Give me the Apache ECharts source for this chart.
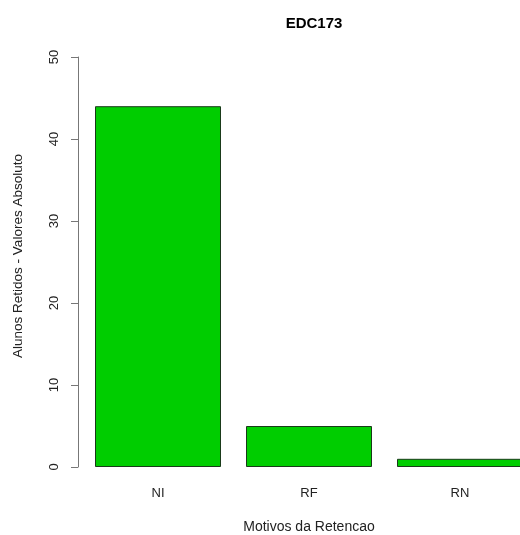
<!DOCTYPE html>
<html>
<head>
<meta charset="utf-8">
<script src="https://cdn.jsdelivr.net/npm/echarts@6/dist/echarts.min.js"></script>
<style>html,body{margin:0;padding:0;background:#fff;overflow:hidden;width:520px;height:535px;}#c{width:536px;height:535px;}</style>
</head>
<body>
<div id="c"></div>
<script>
const titleText = 'EDC173';
const categories = ['NI', 'RF', 'RN'];
const values = [44, 5, 1];
const yTicks = [0, 10, 20, 30, 40, 50];
const xTitle = 'Motivos da Retencao';
const yTitle = 'Alunos Retidos - Valores Absoluto';

const chart = echarts.init(document.getElementById('c'), null, {renderer: 'canvas'});
const font = 'Liberation Sans, Arial, sans-serif';
chart.setOption({
  animation: false,
  backgroundColor: '#fff',
  title: {
    text: titleText, left: 309, top: 11, textAlign: 'center',
    textStyle: {fontFamily: font, fontWeight: 'bold', fontSize: 15, color: '#000'}
  },
  grid: {left: 82.5, right: 0.5, top: 57, bottom: 68, outerBoundsMode: 'none'},
  graphic: [{
    type: 'text', x: 18.5, y: 256, rotation: Math.PI / 2,
    style: {text: yTitle, fontFamily: font, fontSize: 13.5, fill: '#222', align: 'center', verticalAlign: 'middle'}
  }, {
    type: 'text', x: 309, y: 527, 
    style: {text: xTitle, fontFamily: font, fontSize: 14, fill: '#222', align: 'center', verticalAlign: 'middle'}
  }],
  xAxis: {
    type: 'category', data: categories,
    axisLine: {show: false}, axisTick: {show: false}, splitLine: {show: false},
    axisLabel: {fontFamily: font, fontSize: 13, color: '#222', margin: 20}
  },
  yAxis: {
    type: 'value', min: yTicks[0], max: yTicks[yTicks.length - 1], interval: 10,
    offset: 4.5,
    axisLine: {show: true, lineStyle: {color: '#777', width: 1}},
    axisTick: {show: true, inside: false, length: 7, lineStyle: {color: '#777'}},
    splitLine: {show: false},
    axisLabel: {rotate: 90, fontFamily: font, fontSize: 13, color: '#222', margin: 17}
  },
  series: [{
    type: 'bar', data: values, barWidth: 126,
    itemStyle: {color: '#00CD00', borderColor: '#1a3a1a', borderWidth: 1}
  }]
});
</script>
</body>
</html>
